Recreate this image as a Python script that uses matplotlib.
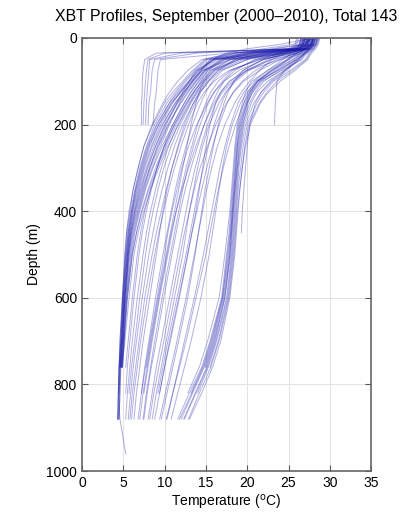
import numpy as np
import matplotlib
matplotlib.use('Agg')
import matplotlib.pyplot as plt

plt.rcParams['font.family'] = ['Liberation Sans', 'DejaVu Sans']

# depth levels (m) shared by all profiles; a profile stops where its list ends
depth_levels = [0, 15, 25, 35, 50, 75, 100, 125, 150, 200, 250, 300, 350, 400, 450,
                500, 600, 700, 760, 820, 880, 960]

# cold profiles: shallow mixed layer, strong thermocline (dense left band)
cold_profiles = [
    [27.5, 27.3, 26.8, 20.5, 16.3, 14.6, 13.5, 12.4, 11.5, 10.0, 8.9, 8.0, 7.2, 6.5, 6.0, 5.6, 5.2, 4.9, 4.7],
    [27.2, 27.0, 26.5, 19.5, 15.8, 14.2, 13.0, 11.9, 11.0, 9.5, 8.4, 7.5, 6.8, 6.2, 5.8, 5.5, 5.1, 4.8, 4.6, 4.5, 4.4],
    [28.2, 27.9, 25.0, 20.5, 17.0, 14.9, 13.9, 12.9, 12.0, 10.5, 9.3, 8.3, 7.5, 6.8, 6.2, 5.8, 5.3, 5.0, 4.8],
    [26.8, 26.6, 26.2, 22.5, 16.2, 13.8, 12.6, 11.5, 10.6, 9.1, 8.0, 7.2, 6.5, 6.0, 5.6, 5.3, 5.0, 4.7, 4.6, 4.5],
    [27.5, 25.5, 22.0, 18.5, 15.5, 14.4, 13.4, 12.3, 11.3, 9.8, 8.7, 7.8, 7.0, 6.4, 5.9, 5.6, 5.2, 4.9, 4.7, 4.6, 4.5],
    [28.5, 28.2, 27.5, 23.0, 17.5, 15.0, 14.1, 13.2, 12.4, 11.0, 9.7, 8.6, 7.7, 7.0, 6.4, 6.0, 5.4, 5.1, 4.9],
    [27.0, 26.8, 26.4, 24.5, 18.0, 14.6, 13.2, 12.0, 10.9, 9.3, 8.2, 7.4, 6.7, 6.1, 5.7, 5.4, 5.0, 4.8, 4.6],
    [27.9, 27.0, 23.5, 19.0, 15.0, 13.6, 12.4, 11.3, 10.3, 8.8, 7.8, 7.0, 6.4, 5.9, 5.5, 5.3, 4.9, 4.7, 4.5, 4.4, 4.3],
    [26.5, 26.3, 25.8, 20.0, 15.2, 13.8, 13.0, 12.2, 11.5, 10.2, 9.1, 8.2, 7.4, 6.7, 6.1, 5.7, 5.2, 4.9, 4.7],
    [28.0, 27.8, 27.2, 21.5, 16.8, 15.2, 14.4, 13.5, 12.7, 11.2, 10.0, 8.9, 8.0, 7.2, 6.6, 6.1, 5.5, 5.1, 4.8],
    [27.4, 27.2, 26.0, 18.0, 14.8, 13.4, 12.2, 11.0, 10.0, 8.6, 7.5, 6.8, 6.2, 5.8, 5.4, 5.2, 4.9, 4.6, 4.5, 4.5, 4.4],
    [27.6, 27.4, 26.9, 24.0, 17.2, 14.8, 13.8, 12.8, 11.9, 10.4, 9.2, 8.2, 7.3, 6.6, 6.0, 5.7, 5.3, 5.0, 4.8],
    [26.9, 26.7, 26.3, 21.0, 15.9, 14.5, 13.4, 12.3, 11.3, 9.7, 8.5, 7.6, 6.9, 6.3, 5.8, 5.5, 5.1, 4.8, 4.6],
    [28.3, 28.0, 27.0, 22.0, 16.0, 14.1, 13.0, 11.9, 10.8, 9.3, 8.1, 7.3, 6.6, 6.1, 5.7, 5.5, 5.1, 4.8, 4.7],
    [27.0, 26.8, 26.2, 20.5, 15.6, 14.0, 12.9, 11.7, 10.6, 9.0, 7.9, 7.1, 6.5, 6.0, 5.6, 5.4, 5.0, 4.7, 4.5, 4.4, 4.6, 5.3],
    [27.8, 24.0, 20.0, 17.5, 15.8, 14.3, 13.3, 12.5, 11.8, 10.6, 9.5, 8.5, 7.6, 6.9, 6.3, 5.9, 5.4, 5.0, 4.8],
    [28.1, 26.5, 23.0, 19.8, 16.6, 14.9, 13.7, 12.6, 11.6, 10.1, 8.9, 7.9, 7.1, 6.4, 5.9, 5.6, 5.2, 4.9, 4.7, 4.6, 4.5],
    [27.3, 27.1, 26.7, 25.0, 19.0, 15.5, 14.5, 13.6, 12.8, 11.4, 10.2, 9.1, 8.1, 7.3, 6.6, 6.1, 5.5, 5.1, 4.9],
    [26.6, 26.4, 25.0, 18.5, 14.5, 12.8, 11.6, 10.6, 9.8, 8.5, 7.5, 6.8, 6.2, 5.7, 5.4, 5.2, 4.9, 4.6, 4.5, 4.4, 4.3],
    [28.6, 28.3, 27.8, 22.8, 17.8, 15.6, 14.7, 13.9, 13.1, 11.7, 10.4, 9.3, 8.3, 7.5, 6.8, 6.3, 5.7, 5.2, 4.9],
]

# cool-intermediate profiles just right of the dense band
cool_mid_profiles = [
    [27.5, 27.3, 26.8, 23.0, 18.5, 16.0, 14.8, 13.8, 13.0, 11.6, 10.5, 9.6, 8.9, 8.3, 7.8, 7.4, 6.7, 6.1, 5.8, 5.5, 5.3],
    [28.0, 27.8, 27.2, 25.0, 20.0, 16.8, 15.4, 14.3, 13.5, 12.2, 11.2, 10.4, 9.7, 9.1, 8.6, 8.1, 7.3, 6.6, 6.2, 5.9, 5.6],
    [27.2, 27.0, 26.0, 21.0, 17.2, 15.3, 14.2, 13.2, 12.4, 11.0, 9.9, 9.1, 8.4, 7.8, 7.3, 6.9, 6.3, 5.8, 5.5, 5.3],
    [26.8, 26.6, 26.3, 24.0, 19.5, 16.5, 15.3, 14.4, 13.7, 12.6, 11.7, 10.9, 10.2, 9.6, 9.0, 8.5, 7.6, 6.9, 6.5, 6.1, 5.8],
    [28.3, 28.1, 27.6, 24.5, 19.0, 16.2, 15.0, 14.0, 13.2, 11.9, 10.8, 9.9, 9.2, 8.6, 8.1, 7.7, 7.0, 6.4, 6.0, 5.7],
    [27.7, 27.5, 27.0, 26.0, 21.5, 17.8, 16.0, 14.8, 14.0, 12.9, 12.0, 11.2, 10.5, 9.9, 9.3, 8.8, 7.9, 7.1, 6.7, 6.3, 6.0],
    [27.0, 26.7, 25.5, 22.0, 18.0, 15.8, 14.6, 13.5, 12.6, 11.2, 10.0, 9.1, 8.3, 7.6, 7.1, 6.7, 6.1, 5.6, 5.3],
]

# intermediate profiles spread between the two bands
mid_profiles = [
    [27.5, 27.2, 26.0, 23.0, 20.0, 17.0, 15.8, 15.0, 14.4, 13.4, 12.6, 11.9, 11.3, 10.8, 10.3, 9.8, 8.9, 8.1, 7.6, 7.2, 6.8],
    [28.0, 27.8, 27.0, 25.0, 22.0, 19.0, 17.2, 16.0, 15.3, 14.3, 13.5, 12.8, 12.2, 11.7, 11.2, 10.7, 9.7, 8.8, 8.3, 7.8, 7.4],
    [27.0, 26.5, 25.5, 24.0, 22.5, 20.0, 18.3, 17.0, 16.2, 15.2, 14.4, 13.7, 13.1, 12.6, 12.1, 11.6, 10.6, 9.6, 9.0, 8.5, 8.0],
    [28.5, 28.3, 27.5, 26.0, 23.5, 21.0, 19.4, 18.3, 17.6, 16.6, 15.8, 15.1, 14.5, 13.9, 13.3, 12.8, 11.7, 10.6, 10.0, 9.4, 8.8],
    [27.8, 27.6, 27.2, 25.5, 21.5, 18.0, 16.5, 15.6, 15.0, 14.0, 13.3, 12.6, 12.0, 11.4, 10.9, 10.4, 9.4, 8.5, 8.0, 7.5],
    [26.8, 26.5, 26.0, 24.5, 23.0, 21.5, 20.3, 19.3, 18.5, 17.3, 16.4, 15.7, 15.1, 14.6, 14.1, 13.6, 12.6, 11.5, 10.8, 10.1, 9.4],
    [28.2, 28.0, 27.6, 26.8, 24.0, 20.0, 17.8, 16.8, 16.2, 15.5, 15.0, 14.6, 14.2, 13.8, 13.3, 12.8, 11.8, 10.7, 10.0, 9.4],
    [27.3, 27.1, 26.5, 22.0, 18.5, 16.5, 15.2, 14.2, 13.5, 12.4, 11.6, 10.9, 10.3, 9.8, 9.4, 9.0, 8.2, 7.4, 7.0, 6.6, 6.3],
    [27.9, 27.7, 27.3, 26.0, 24.8, 22.5, 20.8, 19.6, 18.9, 18.0, 17.3, 16.7, 16.2, 15.7, 15.2, 14.7, 13.6, 12.4, 11.7, 11.0, 10.3],
    [28.4, 28.0, 26.0, 24.0, 21.0, 18.5, 17.2, 16.4, 15.8, 14.8, 14.0, 13.2, 12.5, 11.9, 11.4, 10.9, 9.9, 9.0, 8.4, 7.9, 7.5],
    [27.1, 26.9, 26.6, 25.8, 24.0, 21.5, 19.6, 18.4, 17.5, 16.2, 15.2, 14.3, 13.6, 13.0, 12.4, 11.9, 10.9, 9.9, 9.3, 8.7, 8.2],
    [27.6, 27.4, 27.0, 23.5, 19.0, 16.0, 14.8, 14.2, 13.8, 13.2, 12.7, 12.2, 11.7, 11.2, 10.7, 10.2, 9.2, 8.3, 7.8],
    [28.7, 28.5, 28.0, 27.0, 25.5, 23.0, 21.2, 20.0, 19.2, 18.2, 17.5, 17.0, 16.6, 16.2, 15.8, 15.4, 14.4, 13.2, 12.4, 11.6, 10.8],
    [26.6, 26.4, 26.0, 23.8, 21.8, 19.5, 18.0, 16.8, 16.0, 14.8, 13.8, 12.9, 12.1, 11.4, 10.8, 10.3, 9.3, 8.4, 7.9, 7.4, 7.0],
    [27.7, 27.5, 27.1, 26.2, 23.0, 19.8, 18.4, 17.5, 16.9, 16.0, 15.3, 14.7, 14.1, 13.6, 13.1, 12.6, 11.5, 10.4, 9.8, 9.2],
    [28.1, 27.9, 27.4, 25.0, 22.0, 19.5, 18.4, 17.7, 17.2, 16.5, 15.9, 15.4, 14.9, 14.5, 14.1, 13.7, 12.8, 11.7, 11.0, 10.3, 9.6],
    [27.4, 27.2, 26.8, 25.2, 22.8, 20.2, 18.6, 17.4, 16.6, 15.4, 14.6, 14.0, 13.5, 13.0, 12.6, 12.2, 11.2, 10.2, 9.6, 9.0, 8.5],
    [28.0, 27.7, 27.0, 24.5, 21.0, 18.2, 17.0, 16.0, 15.2, 13.9, 12.9, 12.1, 11.5, 10.9, 10.4, 10.0, 9.1, 8.2, 7.7, 7.2],
    [27.9, 27.7, 27.4, 26.5, 25.0, 22.8, 21.3, 20.3, 19.6, 18.6, 17.8, 17.1, 16.5, 16.0, 15.5, 15.0, 13.8, 12.6, 11.8, 11.0, 10.2],
]

# warm profiles: deep warm layer near 18-19 C (right band)
warm_profiles = [
    [28.0, 27.8, 27.5, 27.0, 26.5, 24.5, 22.5, 21.2, 20.5, 19.6, 19.2, 18.9, 18.7, 18.5, 18.3, 18.1, 17.5, 16.2, 15.2, 13.8, 12.4],
    [27.5, 27.3, 27.0, 26.5, 25.5, 23.5, 21.5, 20.5, 20.0, 19.2, 18.8, 18.6, 18.4, 18.2, 18.0, 17.8, 17.1, 15.8, 14.8, 13.4, 12.0],
    [28.5, 28.3, 28.0, 27.5, 27.0, 25.2, 23.2, 22.0, 21.2, 20.0, 19.5, 19.2, 18.9, 18.7, 18.5, 18.3, 17.7, 16.5, 15.5],
    [27.2, 27.0, 26.8, 26.0, 24.8, 23.0, 21.0, 20.1, 19.6, 18.9, 18.6, 18.4, 18.2, 18.0, 17.8, 17.5, 16.9, 15.5, 14.5, 13.0, 11.6],
    [28.3, 28.1, 27.8, 27.3, 26.0, 24.0, 22.0, 21.0, 20.3, 19.4, 19.0, 18.8, 18.6, 18.4, 18.2, 18.0, 17.3, 16.0, 15.0],
    [27.8, 27.6, 27.2, 26.8, 26.2, 24.8, 23.0, 21.7, 20.8, 19.8, 19.3, 19.0, 18.8, 18.6, 18.4, 18.2, 17.6, 16.3, 15.3, 14.0],
    [28.6, 28.4, 28.1, 27.6, 27.2, 25.5, 23.6, 22.4, 21.5, 20.2, 19.7, 19.4, 19.1, 18.8, 18.6, 18.4, 17.8, 16.6, 15.6, 14.2, 12.9],
    [27.0, 26.8, 26.5, 25.5, 24.3, 22.5, 20.5, 19.8, 19.4, 18.8, 18.5, 18.3, 18.1, 17.9, 17.6, 17.3, 16.6, 15.2, 14.2, 12.8],
    [28.1, 27.9, 27.6, 27.2, 26.6, 24.2, 21.8, 20.7, 20.0, 19.3, 18.9, 18.7, 18.5, 18.3, 18.1, 17.9, 17.2, 15.9, 14.9],
    [27.6, 27.4, 27.1, 26.5, 25.8, 23.8, 21.2, 20.3, 19.8, 19.0, 18.7, 18.5, 18.3, 18.1, 17.9, 17.6, 17.0, 15.6, 14.6, 13.2],
    [28.2, 28.0, 27.7, 27.0, 26.3, 24.6, 22.8, 21.7, 21.0, 20.3, 20.0, 19.8, 19.6, 19.4, 19.3],
    [27.4, 27.2, 26.9, 26.2, 25.0, 23.2, 21.3, 20.4, 19.9, 19.1, 18.8, 18.6, 18.4, 18.2, 18.0, 17.7, 17.0, 15.7, 14.7, 13.3, 11.8],
    [28.8, 28.6, 28.3, 27.8, 27.3, 25.8, 24.0, 22.6, 21.6, 20.4, 19.8, 19.4, 19.1, 18.9, 18.7, 18.5, 17.9, 16.8, 15.8, 14.5, 13.0],
    [27.9, 27.7, 27.4, 26.9, 26.0, 23.6, 21.6, 20.6, 20.1, 19.5, 19.1, 18.8, 18.5, 18.3, 18.1, 17.9, 17.3, 16.1, 15.1, 13.7, 12.3],
]

# short casts ending at 200 m
short_profiles = [
    [28.0, 27.8, 27.5, 27.0, 26.0, 24.5, 23.6, 23.5, 23.4, 23.3],
    [26.5, 26.3, 26.0, 10.0, 8.0, 7.8, 7.7, 7.6, 7.5, 7.4],
    [27.0, 26.8, 26.5, 9.0, 7.6, 7.4, 7.3, 7.3, 7.2, 7.2],
    [26.2, 26.0, 25.5, 14.0, 8.8, 8.5, 8.4, 8.3, 8.1, 8.0],
    [27.3, 27.1, 26.6, 18.0, 9.5, 9.2, 9.1, 9.0, 8.8, 8.6],
    [26.0, 25.8, 25.2, 12.0, 8.2, 8.1, 8.0, 7.9, 7.8, 7.7],
]

x_ticks = [0, 5, 10, 15, 20, 25, 30, 35]
y_ticks = [0, 200, 400, 600, 800, 1000]

fig = plt.figure(figsize=(4.18, 5.12), dpi=100)
ax = fig.add_axes([0.196, 0.080, 0.692, 0.846])

all_profiles = cold_profiles + cool_mid_profiles + mid_profiles + warm_profiles + short_profiles
for prof in all_profiles:
    ax.plot(prof, depth_levels[:len(prof)], color='#1a1aaa', lw=0.7, alpha=0.35)

ax.set_xlim(0, 35)
ax.set_ylim(1000, 0)
ax.set_xticks(x_ticks)
ax.set_yticks(y_ticks)
ax.grid(True, color='#e2e2e2', lw=0.7)
ax.set_axisbelow(True)
ax.tick_params(direction='in', length=4, top=True, right=True, labelsize=10, color='#555555')
for s in ax.spines.values():
    s.set_color('#666666')
    s.set_linewidth(1.2)

ax.set_title('XBT Profiles, September (2000\u20132010), Total 143', fontsize=11.4, pad=12)
ax.set_xlabel('Temperature ($^{\\rm o}$C)', fontsize=10, labelpad=2)
ax.set_ylabel('Depth (m)', fontsize=10)

fig.savefig('out.png', dpi=100)
